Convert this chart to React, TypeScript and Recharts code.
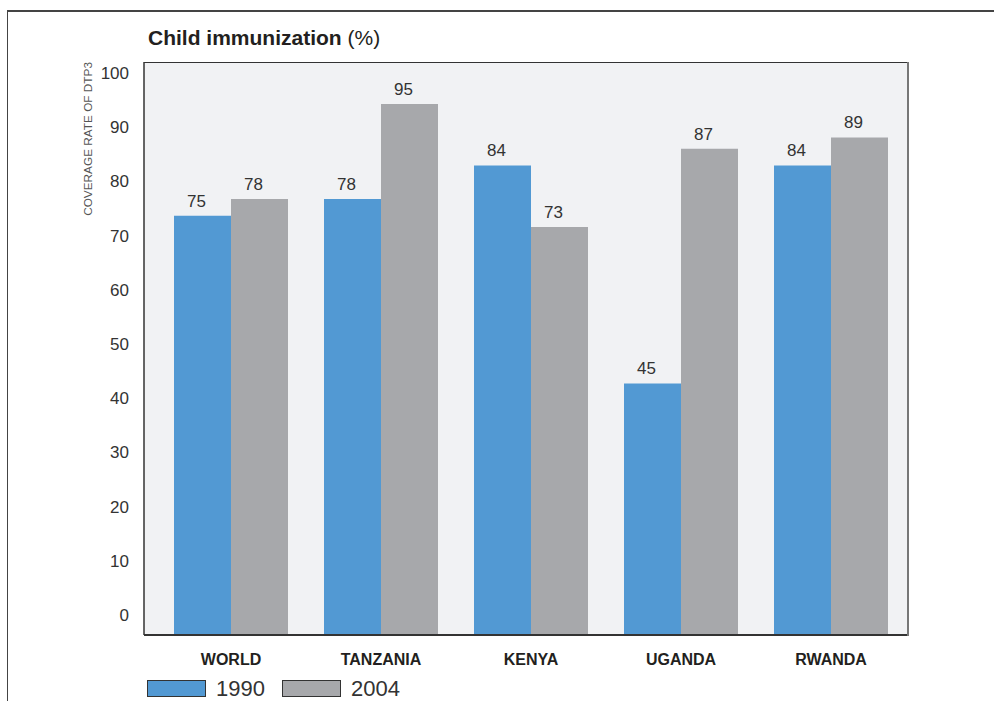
import { BarChart, Bar, XAxis, YAxis, CartesianGrid, LabelList } from 'recharts'

const regions = ['WORLD', 'TANZANIA', 'KENYA', 'UGANDA', 'RWANDA']
const coverage1990 = [75, 78, 84, 45, 84]
const coverage2004 = [78, 95, 73, 87, 89]
const yTicks = [0, 10, 20, 30, 40, 50, 60, 70, 80, 90, 100]

const data = regions.map((region, i) => ({
  region,
  y1990: coverage1990[i],
  y2004: coverage2004[i],
}))

const COLORS = {
  y1990: '#5299d3',
  y2004: '#a7a8ab',
  plot: '#f1f2f4',
  text: '#333333',
}

const FONT = '"Liberation Sans", Arial, Helvetica, sans-serif'

function YTick(props: any) {
  const { x, y, payload } = props
  // the printed labels drift a little from the bar scale in the original
  const shift = -20 + 0.17 * payload.value
  return (
    <text x={x - 15} y={y + shift + 6} textAnchor="end" fontSize={17} fill={COLORS.text} fontFamily={FONT}>
      {payload.value}
    </text>
  )
}

function XTick(props: any) {
  const { x, y, payload } = props
  return (
    <text x={x} y={y + 30} textAnchor="middle" fontSize={16} fontWeight="bold" fill="#231f20" fontFamily={FONT}>
      {payload.value}
    </text>
  )
}

function ValueLabel(props: any) {
  const { x, y, width, value } = props
  return (
    <text x={x + width / 2 - 6} y={y - 9} textAnchor="middle" fontSize={17} fill={COLORS.text} fontFamily={FONT}>
      {value}
    </text>
  )
}

function LegendItem({ color, label }: { color: string; label: string }) {
  return (
    <div style={{ display: 'flex', alignItems: 'center', marginRight: 17, height: 17 }}>
      <div style={{ width: 57, height: 15, background: color, border: '1px solid #333' }} />
      <span style={{ marginLeft: 10, fontSize: 22, color: COLORS.text, lineHeight: '17px', height: 17 }}>{label}</span>
    </div>
  )
}

export default function App() {
  return (
    <div style={{ position: 'absolute', left: 0, top: 0, width: 994, height: 701, background: '#fff', fontFamily: FONT, overflow: 'hidden' }}>
      {/* page frame */}
      <div style={{ position: 'absolute', left: 7, top: 10, width: 987, height: 1.5, background: '#444' }} />
      <div style={{ position: 'absolute', left: 6.5, top: 10, width: 1.5, height: 691, background: '#444' }} />

      <div style={{ position: 'absolute', left: 148, top: 25, fontSize: 21, color: '#231f20', whiteSpace: 'nowrap', lineHeight: '26px' }}>
        <b>Child immunization</b>&nbsp;(%)
      </div>

      <svg style={{ position: 'absolute', left: 0, top: 0 }} width={140} height={260}>
        <text
          transform="translate(92, 62) rotate(-90)"
          textAnchor="end"
          fontSize={11.8}
          fill="#555"
          fontFamily={FONT}
        >
          COVERAGE RATE OF DTP3
        </text>
      </svg>

      <BarChart
        width={994}
        height={701}
        data={data}
        margin={{ top: 62, right: 86, bottom: 16, left: 84 }}
        barCategoryGap={18}
        barGap={0}
      >
        <CartesianGrid horizontal={false} vertical={false} fill={COLORS.plot} />
        <XAxis
          dataKey="region"
          height={50}
          padding={{ left: 12, right: 2 }}
          tick={<XTick />}
          tickLine={false}
          tickSize={0}
          tickMargin={0}
          axisLine={{ stroke: '#333', strokeWidth: 2 }}
        />
        <YAxis
          width={60}
          domain={[0, 102.5]}
          ticks={yTicks}
          tick={<YTick />}
          tickLine={false}
          tickSize={0}
          tickMargin={0}
          axisLine={{ stroke: '#333', strokeWidth: 1.5 }}
        />
        <Bar dataKey="y1990" name="1990" fill={COLORS.y1990} isAnimationActive={false}>
          <LabelList dataKey="y1990" content={<ValueLabel />} />
        </Bar>
        <Bar dataKey="y2004" name="2004" fill={COLORS.y2004} isAnimationActive={false}>
          <LabelList dataKey="y2004" content={<ValueLabel />} />
        </Bar>
      </BarChart>

      {/* plot frame: dark top edge, grey shadow on the right */}
      <div style={{ position: 'absolute', left: 144, top: 61.5, width: 764, height: 1.5, background: '#333', pointerEvents: 'none' }} />
      <div style={{ position: 'absolute', left: 906.5, top: 62, width: 2.5, height: 574, background: '#777', pointerEvents: 'none' }} />

      <div style={{ position: 'absolute', left: 147, top: 680, display: 'flex' }}>
        <LegendItem color={COLORS.y1990} label="1990" />
        <LegendItem color={COLORS.y2004} label="2004" />
      </div>
    </div>
  )
}
